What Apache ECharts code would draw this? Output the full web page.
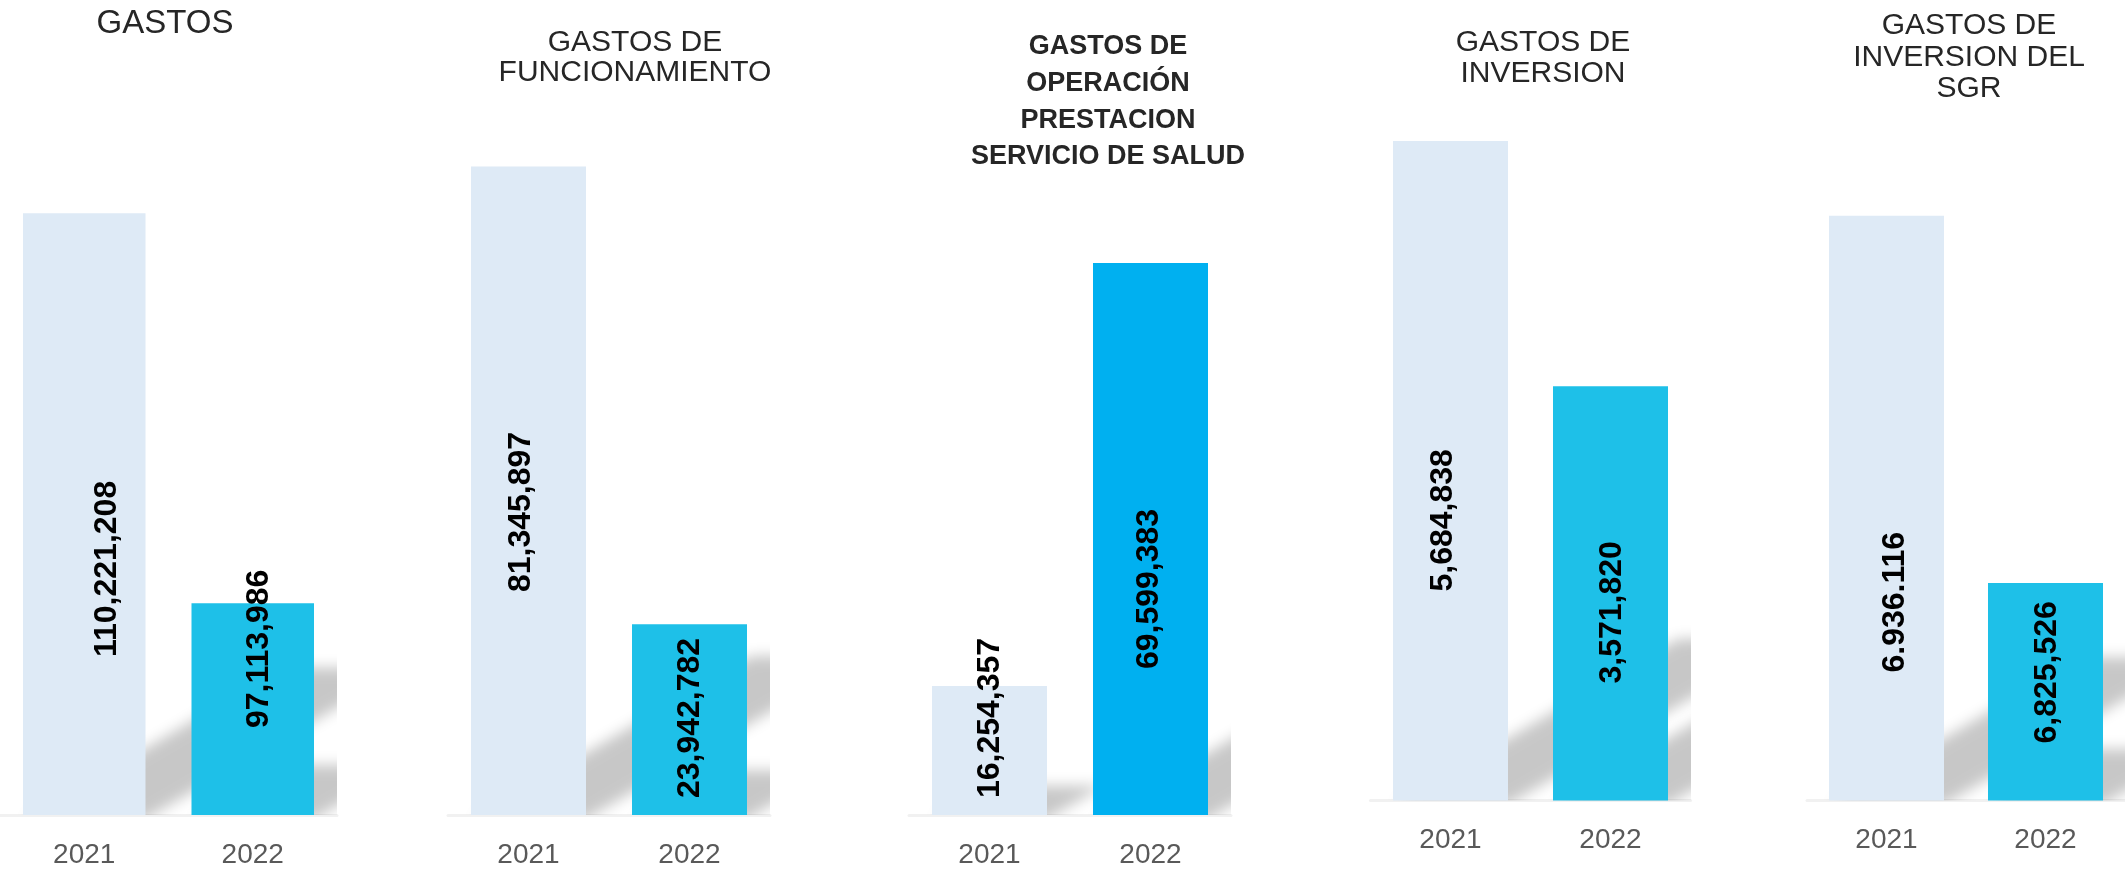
<!DOCTYPE html>
<html>
<head>
<meta charset="utf-8">
<script src="https://cdn.jsdelivr.net/npm/echarts@6/dist/echarts.min.js"></script>
<style>
  html, body { margin: 0; padding: 0; background: #ffffff; }
  #chart { width: 2125px; height: 872px; }
</style>
</head>
<body>
<div id="chart"></div>
<script>
// ---- Data -------------------------------------------------------------
const titulos = [
  'GASTOS',
  'GASTOS DE\nFUNCIONAMIENTO',
  'GASTOS DE\nOPERACIÓN\nPRESTACION\nSERVICIO DE SALUD',
  'GASTOS DE\nINVERSION',
  'GASTOS DE\nINVERSION DEL\nSGR'
];
const anios = ['2021', '2022'];
const valores2021 = [110221208, 81345897, 16254357, 5684838, 6936116];
const valores2022 = [97113986, 23942782, 69599383, 3571820, 6825526];
// thousands separator used in each panel's 2021 / 2022 label
const separador2021 = [',', ',', ',', ',', '.'];
const separador2022 = [',', ',', ',', ',', ','];
// value range of each panel's (hidden) y axis
const ejeMin = [90000000, 0, 0, 0, 6760000];
const ejeMax = [114030000, 89700000, 90150000, 6039000, 6971000];

// ---- Layout & style -------------------------------------------------
const paneles = [
  { left: -8,     width: 345, baseY: 815,   barW: 122.5, color22: '#1EC0E8',
    title: { x: 165,  y: 7.7,  size: 33, lh: 33,   weight: 'normal' } },
  { left: 448,    width: 322, baseY: 815,   barW: 115,   color22: '#1EC0E8',
    title: { x: 635,  y: 28,   size: 30, lh: 30,   weight: 'normal' } },
  { left: 909,    width: 322, baseY: 815,   barW: 115,   color22: '#00B0F0',
    title: { x: 1108, y: 28.5, size: 27, lh: 36.7, weight: 'bold' } },
  { left: 1370.5, width: 320, baseY: 800.5, barW: 115,   color22: '#1EC0E8',
    title: { x: 1543, y: 27.6, size: 30, lh: 31,   weight: 'normal' } },
  { left: 1807,   width: 322, baseY: 800.5, barW: 115,   color22: '#1EC0E8',
    title: { x: 1969, y: 10.4, size: 30, lh: 31.5, weight: 'normal' } }
];
// value-label placement: gap above the baseline, sideways shift from bar centre
const etiquetas = [
  [{ gap: 158, dx: 23 },  { gap: 87,  dx: 6.5 }],
  [{ gap: 223, dx: -7 },  { gap: 17,  dx: 1 }],
  [{ gap: 17,  dx: 1 },   { gap: 146, dx: -1 }],
  [{ gap: 209, dx: -7 },  { gap: 117, dx: 1.5 }],
  [{ gap: 128, dx: 9 },   { gap: 57,  dx: 1.5 }]
];
const GRID_TOP = 100;
const COLOR_2021 = '#DEEAF6';
const SHADOW_KX = 0.43, SHADOW_KY = 0.25;
// the shadow shape is drawn far off to the left and only its blurred
// canvas shadow is shifted back into place, giving soft edges all round
const SHADOW_SHIFT = 4000;

function formatear(n, sep) {
  return String(n).replace(/\B(?=(\d{3})+(?!\d))/g, sep);
}

const grids = [], xAxes = [], yAxes = [], series = [], graphics = [];

paneles.forEach((p, i) => {
  grids.push({
    left: p.left, width: p.width,
    top: GRID_TOP, height: p.baseY - GRID_TOP,
    containLabel: false
  });
  xAxes.push({
    type: 'category', gridIndex: i, data: anios,
    axisTick: { show: false },
    axisLine: { show: true, lineStyle: { color: '#F1F1F1', width: 3 } },
    axisLabel: {
      margin: 26, fontSize: 28, color: '#595959',
      fontFamily: '"Liberation Sans", Arial, sans-serif'
    }
  });
  yAxes.push({
    type: 'value', gridIndex: i, min: ejeMin[i], max: ejeMax[i], show: false,
    splitLine: { show: false }
  });

  const valores = [valores2021[i], valores2022[i]];
  const seps = [separador2021[i], separador2022[i]];
  const colores = [COLOR_2021, p.color22];

  // soft diagonal shadow cast by each bar
  const minY = ejeMin[i];
  const halfW = p.barW / 2;
  series.push({
    type: 'custom', xAxisIndex: i, yAxisIndex: i, z: 1, silent: true,
    clip: true,
    data: valores.map((v, k) => [k, v]),
    encode: { x: 0, y: 1 },
    renderItem: (params, api) => {
      const topPt = api.coord([api.value(0), api.value(1)]);
      const basePt = api.coord([api.value(0), minY]);
      const x = topPt[0] - SHADOW_SHIFT, B = basePt[1] + 4;
      const H = B - topPt[1];
      const dx = SHADOW_KX * H, dy = SHADOW_KY * H;
      return {
        type: 'polygon',
        shape: { points: [
          [x - halfW + 2, B], [x + halfW, B],
          [x + halfW + dx, B - dy], [x - halfW + dx, B - dy]
        ] },
        style: {
          fill: '#000000',
          shadowBlur: 14,
          shadowColor: 'rgba(0,0,0,0.22)',
          shadowOffsetX: SHADOW_SHIFT,
          shadowOffsetY: 0
        }
      };
    }
  });

  series.push({
    type: 'bar', xAxisIndex: i, yAxisIndex: i, z: 2,
    barWidth: p.barW,
    data: valores.map((v, k) => ({
      value: v,
      itemStyle: { color: colores[k] },
      label: {
        show: true,
        position: 'insideBottom',
        distance: etiquetas[i][k].gap,
        offset: [0, etiquetas[i][k].dx],
        rotate: 90,
        align: 'left',
        verticalAlign: 'middle',
        formatter: () => formatear(v, seps[k]),
        fontSize: 32,
        fontWeight: 'bold',
        color: '#000000',
        fontFamily: '"Liberation Sans", Arial, sans-serif'
      }
    }))
  });

  graphics.push({
    type: 'text', x: p.title.x, y: p.title.y, z: 10,
    style: {
      text: titulos[i],
      align: 'center', verticalAlign: 'top',
      fontSize: p.title.size, lineHeight: p.title.lh,
      fontWeight: p.title.weight,
      fontFamily: '"Liberation Sans", Arial, sans-serif',
      fill: '#262626'
    }
  });
});

const chart = echarts.init(document.getElementById('chart'), null, { renderer: 'canvas' });
chart.setOption({
  backgroundColor: '#ffffff',
  animation: false,
  grid: grids,
  xAxis: xAxes,
  yAxis: yAxes,
  series: series,
  graphic: graphics
});
</script>
</body>
</html>
